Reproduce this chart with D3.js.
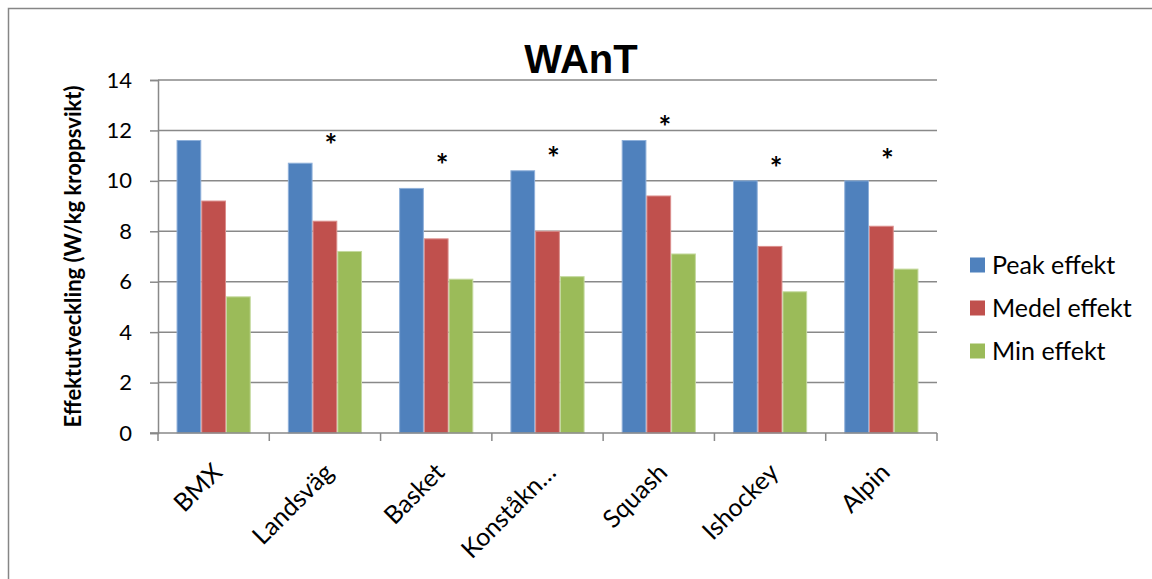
<!DOCTYPE html>
<html>
<head>
<meta charset="utf-8">
<script src="https://cdn.jsdelivr.net/npm/d3@7"></script>
<style>
  html, body { margin: 0; padding: 0; background: #fff; }
  svg { display: block; }
</style>
</head>
<body>
<svg id="chart" width="1152" height="579"></svg>
<script>
// Sports and WAnT power output per kg body weight
const categories = ["BMX", "Landsväg", "Basket", "Konståkn…", "Squash", "Ishockey", "Alpin"];
const seriesNames = ["Peak effekt", "Medel effekt", "Min effekt"];
const peakValues = [11.6, 10.7, 9.7, 10.4, 11.6, 10.0, 10.0];
const meanValues = [9.2, 8.4, 7.7, 8.0, 9.4, 7.4, 8.2];
const minValues  = [5.4, 7.2, 6.1, 6.2, 7.1, 5.6, 6.5];
const yTicks = [0, 2, 4, 6, 8, 10, 12, 14];
// Significance marks: category and the level (axis units) where the star sits
const markCategories = ["Landsväg", "Basket", "Konståkn…", "Squash", "Ishockey", "Alpin"];
const markLevels = [11.65, 10.86, 11.14, 12.38, 10.74, 11.06];

const colors = ["#4F81BD", "#C0504D", "#9BBB59"];
const edgeColors = ["#8FB0DA", "#DB8E8C", "#C4D99E"];
const font = "Lato, 'Open Sans', sans-serif";

const svg = d3.select("#chart");

// outer frame
svg.append("rect")
  .attr("x", 8.5).attr("y", 8.5)
  .attr("width", 1160).attr("height", 600)
  .attr("fill", "#fff")
  .attr("stroke", "#868686").attr("stroke-width", 1.5);

const plot = { left: 158, right: 937, top: 80, bottom: 433 };

const x = d3.scaleBand()
  .domain(categories)
  .range([plot.left, plot.right])
  .paddingInner(0).paddingOuter(0);

// three bars per category, half a bar width of gap on each side
const xInner = d3.scaleBand()
  .domain(seriesNames)
  .range([0, x.bandwidth()])
  .paddingInner(0)
  .paddingOuter(0.75);

const y = d3.scaleLinear().domain([0, 14]).range([plot.bottom, plot.top]);

// horizontal gridlines
svg.append("g")
  .selectAll("line")
  .data(yTicks.filter(d => d > 0))
  .join("line")
  .attr("x1", plot.left).attr("x2", plot.right)
  .attr("y1", d => y(d)).attr("y2", d => y(d))
  .attr("stroke", "#898989").attr("stroke-width", 1.5);

// y axis
const yAxis = svg.append("g")
  .attr("transform", `translate(${plot.left},0)`)
  .call(d3.axisLeft(y).tickValues(yTicks).tickSize(8).tickPadding(18).tickFormat(d3.format("d")));
yAxis.select(".domain").attr("stroke", "#898989").attr("stroke-width", 1.5);
yAxis.selectAll(".tick line").attr("stroke", "#898989").attr("stroke-width", 1.5);
yAxis.selectAll(".tick text")
  .attr("font-family", font).attr("font-size", 22).attr("fill", "#000");

// bars
const seriesValues = [peakValues, meanValues, minValues];
const rows = categories.map((c, i) => ({ cat: c, vals: seriesValues.map(s => s[i]) }));

const groups = svg.append("g")
  .selectAll("g")
  .data(rows)
  .join("g")
  .attr("transform", d => `translate(${x(d.cat)},0)`);

groups.selectAll("rect")
  .data(d => d.vals.map((v, k) => ({ v, k })))
  .join("rect")
  .attr("x", d => xInner(seriesNames[d.k]) + 0.5)
  .attr("width", xInner.bandwidth() - 1)
  .attr("y", d => y(d.v))
  .attr("height", d => y(0) - y(d.v))
  .attr("fill", d => colors[d.k])
  .attr("stroke", d => edgeColors[d.k])
  .attr("stroke-width", 1);

// x axis line and category ticks
const xAxisG = svg.append("g").attr("transform", `translate(0,${plot.bottom})`);
xAxisG.append("line")
  .attr("x1", plot.left - 8).attr("x2", plot.right)
  .attr("stroke", "#898989").attr("stroke-width", 1.5);
const boundaries = categories.map(c => x(c)).concat([x(categories[categories.length - 1]) + x.bandwidth()]);
xAxisG.selectAll("line.tick")
  .data(boundaries)
  .join("line")
  .attr("class", "tick")
  .attr("x1", d => d).attr("x2", d => d)
  .attr("y1", 0).attr("y2", 8)
  .attr("stroke", "#898989").attr("stroke-width", 1.5);

// rotated category labels
xAxisG.selectAll("text")
  .data(categories)
  .join("text")
  .attr("transform", d => `translate(${x(d) + x.bandwidth() / 2 + 10},${41}) rotate(-45)`)
  .attr("text-anchor", "end")
  .attr("font-family", font).attr("font-size", 25)
  .attr("fill", "#000")
  .text(d => d);

// significance stars
svg.append("g")
  .selectAll("text")
  .data(markCategories.map((c, i) => ({ c, lv: markLevels[i] })))
  .join("text")
  .attr("x", d => x(d.c) + x.bandwidth() / 2 + 6)
  .attr("y", d => y(d.lv) + 17)
  .attr("text-anchor", "middle")
  .attr("font-family", font).attr("font-size", 30).attr("font-weight", 700)
  .attr("fill", "#000")
  .text("*");

// title
svg.append("text")
  .attr("x", 581).attr("y", 73)
  .attr("text-anchor", "middle")
  .attr("font-family", "'Liberation Sans', Arial, sans-serif")
  .attr("font-size", 40).attr("font-weight", 700)
  .attr("fill", "#000")
  .text("WAnT");

// y axis title
svg.append("text")
  .attr("transform", `translate(81,${(plot.top + plot.bottom) / 2}) rotate(-90)`)
  .attr("text-anchor", "middle")
  .attr("font-family", font).attr("font-size", 22).attr("font-weight", 700)
  .attr("fill", "#000")
  .text("Effektutveckling (W/kg kroppsvikt)");

// legend
const legend = svg.append("g").attr("transform", "translate(970,0)");
const legendY = d3.scalePoint().domain(seriesNames).range([265, 351]);
legend.selectAll("rect")
  .data(seriesNames)
  .join("rect")
  .attr("x", 0).attr("y", d => legendY(d) - 7.5)
  .attr("width", 15).attr("height", 15)
  .attr("fill", (d, i) => colors[i]);
legend.selectAll("text")
  .data(seriesNames)
  .join("text")
  .attr("x", 22).attr("y", d => legendY(d) + 9)
  .attr("font-family", font).attr("font-size", 25)
  .attr("fill", "#000")
  .text(d => d);
</script>
</body>
</html>
